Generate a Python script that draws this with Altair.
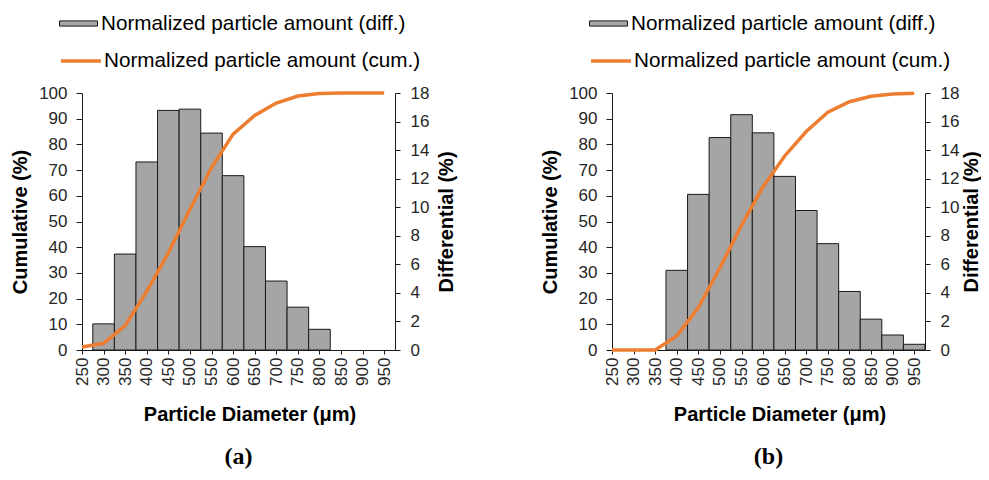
import altair as alt
import pandas as pd

# ---- data ----
diameters = [250, 300, 350, 400, 450, 500, 550, 600, 650, 700, 750, 800, 850, 900, 950]
diff_a = [0, 1.83, 6.72, 13.17, 16.78, 16.87, 15.19, 12.21, 7.24, 4.83, 3.0, 1.45, 0, 0, 0]
cum_a = [1.2, 2.6, 9.5, 22.8, 37.8, 54.7, 71.0, 84.0, 91.3, 96.1, 98.8, 99.8, 100, 100, 100]
diff_b = [0, 0, 0, 5.58, 10.9, 14.88, 16.48, 15.21, 12.16, 9.77, 7.45, 4.10, 2.16, 1.05, 0.40]
cum_b = [0, 0, 0, 5.5, 16.5, 32.0, 48.5, 63.5, 75.5, 85.0, 92.5, 96.6, 98.7, 99.6, 99.9]
diff_label = "Normalized particle amount (diff.)"
cum_label = "Normalized particle amount (cum.)"
cum_ticks = list(range(0, 101, 10))
diff_ticks = list(range(0, 19, 2))

W, H = 313, 257
FONT = "Liberation Sans"
INK = "#1a1a1a"
LBL = "#262626"


def panel(diff, cum, tag, right_title_x):
    df = pd.DataFrame({"d": diameters, "diff": diff, "cum": cum,
                       "sd": diff_label, "sc": cum_label})
    base = alt.Chart(df)
    xscale = alt.Scale(domain=[250, 975], nice=False, zero=False)
    xaxis = alt.Axis(values=diameters, labelAngle=270, labelFont=FONT, labelFontSize=17,
                     labelColor=LBL, tickSize=4, labelPadding=3, domainColor=INK,
                     tickColor=INK, title="Particle Diameter (μm)", titleFont=FONT,
                     titleFontSize=20, titleFontWeight="bold", titleColor="black",
                     titleX=W / 2 + 11, titleY=70, titleBaseline="alphabetic",
                     titleAlign="center", grid=False, labelOverlap=False, labelFlush=False)
    bars = base.transform_filter("datum.diff > 0").transform_calculate(
        x0="datum.d - 25", x1="datum.d + 25"
    ).mark_rect(stroke=INK, strokeWidth=1).encode(
        x=alt.X("x0:Q", scale=xscale, axis=xaxis),
        x2="x1:Q",
        y=alt.Y("diff:Q", scale=alt.Scale(domain=[0, 18], nice=False, zero=True),
                axis=alt.Axis(orient="right", values=diff_ticks, title="Differential (%)",
                              titleX=right_title_x, titleY=H / 2, titleAngle=270,
                              titleBaseline="alphabetic", titleAlign="center",
                              titleFont=FONT, titleFontSize=20, titleFontWeight="bold",
                              titleColor="black", labelFont=FONT, labelFontSize=17,
                              labelColor=LBL, tickSize=5, labelPadding=10,
                              domainColor=INK, tickColor=INK, grid=False)),
        y2=alt.datum(0),
        fill=alt.Fill("sd:N", scale=alt.Scale(domain=[diff_label], range=["#A5A5A5"]),
                      legend=alt.Legend(title=None, orient="none", legendX=-14, legendY=-80,
                                        symbolType="M-1.9,-0.26H1.9V0.26H-1.9Z", symbolSize=400,
                                        symbolStrokeColor=INK, symbolStrokeWidth=1,
                                        symbolOpacity=1,
                                        labelFont=FONT, labelFontSize=20.7, labelColor="black",
                                        labelOffset=12, labelLimit=600, padding=0)),
    )
    line = base.mark_line(strokeWidth=3.5).encode(
        x=alt.X("d:Q", scale=xscale, axis=xaxis),
        y=alt.Y("cum:Q", scale=alt.Scale(domain=[0, 100], nice=False),
                axis=alt.Axis(orient="left", values=cum_ticks, title="Cumulative (%)",
                              titleX=-56, titleY=H / 2, titleAngle=270,
                              titleBaseline="alphabetic", titleAlign="center",
                              titleFont=FONT, titleFontSize=20, titleFontWeight="bold",
                              titleColor="black", labelFont=FONT, labelFontSize=17,
                              labelColor=LBL, tickSize=6, labelPadding=9,
                              domainColor=INK, tickColor=INK, grid=False)),
        stroke=alt.Stroke("sc:N", scale=alt.Scale(domain=[cum_label], range=["#ED7D31"]),
                          legend=alt.Legend(title=None, orient="none", legendX=-13, legendY=-44,
                                            symbolType="M-2,0H2", symbolSize=400,
                                            symbolStrokeWidth=3.5,
                                            labelFont=FONT, labelFontSize=20.7,
                                            labelColor="black", labelOffset=11,
                                            labelLimit=600, padding=0)),
    )
    return alt.layer(bars, line).resolve_scale(y="independent").properties(
        width=W, height=H,
        title=alt.Title(tag, orient="bottom", frame="group", anchor="middle",
                        font="Liberation Serif", fontSize=24, fontWeight="bold",
                        color="black", offset=21),
    )


chart = alt.hconcat(panel(diff_a, cum_a, "(a)", 57), panel(diff_b, cum_b, "(b)", 52),
                    spacing=84).resolve_scale(
    fill="independent", stroke="independent"
).resolve_legend(fill="independent", stroke="independent").configure_view(stroke=None).properties(
    padding={"left": 2, "top": 5, "right": 0, "bottom": 0}
)

chart.save("out.html", embed_options={"renderer": "svg", "actions": False})
